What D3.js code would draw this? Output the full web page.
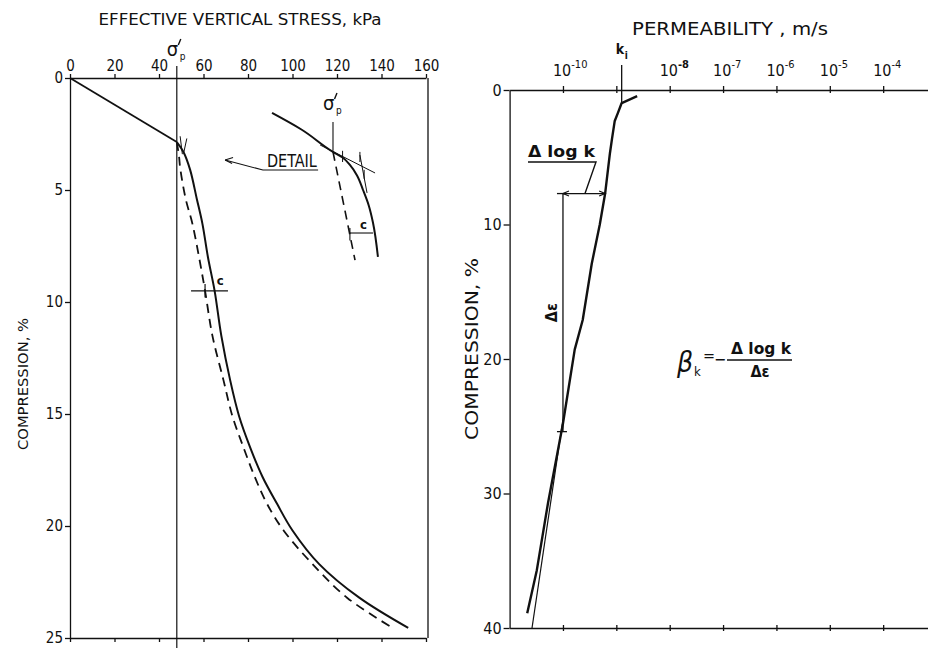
<!DOCTYPE html>
<html>
<head>
<meta charset="utf-8">
<script src="https://cdn.jsdelivr.net/npm/d3@7"></script>
<style>
  body { margin: 0; background: #fff; }
  svg text, svg tspan { fill: #111; font-family: "DejaVu Sans Condensed", "DejaVu Sans", sans-serif; }
  .axis path, .axis line { stroke: #111; stroke-width: 1.3; }
</style>
</head>
<body>
<div id="chart"></div>
<script>
// ---- left panel: effective vertical stress (kPa) vs compression (%)
const stressTicks = [0, 20, 40, 60, 80, 100, 120, 140, 160];
const compTicksLeft = [0, 5, 10, 15, 20, 25];
const preconStress = 48; // sigma'p

// straight loading part up to sigma'p
const loadStress = [0, 48];
const loadComp = [0, 2.86];

// solid curve after sigma'p
const solidStress = [48, 51, 54, 57, 59.5, 62, 65, 68, 72, 76, 81, 86.5, 93, 100, 112, 130, 152];
const solidComp = [2.86, 3.3, 4.1, 5.4, 6.5, 8, 9.5, 11.5, 13.5, 15.1, 16.5, 17.8, 19, 20.2, 21.7, 23.2, 24.55];

// dashed curve
const dashStress = [48, 49, 49.5, 52, 55, 58, 60.7, 64, 69, 73, 78, 83, 88.5, 96, 109, 124.5, 145];
const dashComp = [2.86, 3.5, 4, 5.4, 6.5, 8, 9.5, 11.5, 13.5, 15.1, 16.5, 17.8, 19, 20.2, 21.7, 23.2, 24.55];

// detail sketch (drawn in the same stress/compression units)
const detailSolidStress = [90.8, 104, 118.2, 122.5, 125.8, 129, 131.7, 134.3, 136.2, 138.4];
const detailSolidComp = [1.56, 2.3, 3.3, 3.55, 3.88, 4.35, 5.0, 5.7, 6.47, 7.99];
const detailDashStress = [118.2, 128.1];
const detailDashComp = [3.3, 8.13];
const detailTangentStress = [112.4, 137.1];
const detailTangentComp = [2.99, 4.24];

// ---- right panel: permeability (log10 m/s) vs compression (%)
const permExponents = [-10, -9, -8, -7, -6, -5, -4];
const permLabelled = [-10, -8, -7, -6, -5, -4];
const compTicksRight = [0, 10, 20, 30, 40];
const kiLog = -8.9;

const permLog = [-8.61, -8.90, -8.97, -9.03, -9.08, -9.12, -9.21, -9.31, -9.46, -9.63, -9.78, -10.0, -10.28, -10.49, -10.67];
const permComp = [0.45, 0.97, 1.7, 2.3, 3.6, 4.7, 7.7, 10.0, 12.9, 17.1, 19.3, 24.8, 30.7, 35.7, 38.9];

const fitLog = [-10.58, -10.0];
const fitComp = [40, 24.5];

const deltaTopComp = 7.7, deltaBotComp = 25.4;
const deltaLeftLog = -10.0, deltaRightLog = -9.21;

const W = 928, H = 648;
const svg = d3.select('#chart').append('svg')
  .attr('width', W).attr('height', H);

function sigmaLabel(x, y) {
  // sigma, subscript p, and the prime drawn as a short stroke
  svg.append('text').attr('x', x).attr('y', y).style('font-size', '20px').text('σ');
  svg.append('text').attr('x', x + 13).attr('y', y + 4).style('font-size', '10px').text('p');
  svg.append('path')
    .attr('d', `M${x + 14},${y - 17} L${x + 11.5},${y - 11}`)
    .attr('stroke', '#111').attr('stroke-width', 1.4).attr('fill', 'none');
}

// ================= LEFT PANEL =================
const xL = d3.scaleLinear().domain([0, 160]).range([70, 426]);
const yL = d3.scaleLinear().domain([0, 25]).range([78, 638]);

svg.append('g').classed('axis', true)
  .attr('transform', `translate(0,${yL(0)})`)
  .call(d3.axisTop(xL).tickValues(stressTicks).tickSize(4).tickSizeOuter(0).tickPadding(3))
  .call(g => g.selectAll('text').style('font-size', '15px'));

svg.append('g').classed('axis', true)
  .attr('transform', `translate(0,${yL(25)})`)
  .call(d3.axisBottom(xL).tickValues(stressTicks).tickSize(4).tickSizeOuter(0).tickFormat(''));

svg.append('g').classed('axis', true)
  .attr('transform', `translate(${xL(0)},0)`)
  .call(d3.axisLeft(yL).tickValues(compTicksLeft).tickSize(5).tickSizeOuter(0).tickPadding(2))
  .call(g => g.selectAll('text').style('font-size', '15px'));

svg.append('line')
  .attr('x1', xL(160) + 2).attr('x2', xL(160) + 2)
  .attr('y1', yL(0)).attr('y2', yL(25))
  .attr('stroke', '#111').attr('stroke-width', 1.3);

// sigma'p vertical
svg.append('line')
  .attr('x1', xL(preconStress)).attr('x2', xL(preconStress))
  .attr('y1', 66).attr('y2', H)
  .attr('stroke', '#111').attr('stroke-width', 1.2);
sigmaLabel(xL(preconStress) - 10, 56);

svg.append('text')
  .attr('x', 240).attr('y', 25)
  .attr('text-anchor', 'middle')
  .attr('textLength', 283).attr('lengthAdjust', 'spacingAndGlyphs')
  .style('font-size', '15px')
  .text('EFFECTIVE VERTICAL STRESS, kPa');

svg.append('text')
  .attr('transform', 'translate(28,384) rotate(-90)')
  .attr('text-anchor', 'middle')
  .attr('textLength', 132).attr('lengthAdjust', 'spacingAndGlyphs')
  .style('font-size', '14px')
  .text('COMPRESSION, %');

const lineL = d3.line().x(d => xL(d[0])).y(d => yL(d[1]));
const lineLSmooth = d3.line().x(d => xL(d[0])).y(d => yL(d[1])).curve(d3.curveCatmullRom.alpha(0.5));

svg.append('path')
  .attr('d', lineL(d3.zip(loadStress, loadComp)))
  .attr('fill', 'none').attr('stroke', '#111').attr('stroke-width', 1.8);

svg.append('path')
  .attr('d', lineLSmooth(d3.zip(solidStress, solidComp)))
  .attr('fill', 'none').attr('stroke', '#111').attr('stroke-width', 2);

svg.append('path')
  .attr('d', lineLSmooth(d3.zip(dashStress, dashComp)))
  .attr('fill', 'none').attr('stroke', '#111').attr('stroke-width', 1.8)
  .attr('stroke-dasharray', '9,6');

// small tick marks at the knee
svg.append('path')
  .attr('d', lineL([[49.5, 2.6], [50.5, 3.4]]))
  .attr('stroke', '#111').attr('stroke-width', 1).attr('fill', 'none');
svg.append('path')
  .attr('d', lineL([[52.5, 2.7], [51.2, 3.3]]))
  .attr('stroke', '#111').attr('stroke-width', 1).attr('fill', 'none');

// c dimension
const cComp = 9.5;
svg.append('path')
  .attr('d', lineL([[54.4, cComp], [71, cComp]]))
  .attr('stroke', '#111').attr('stroke-width', 1.2).attr('fill', 'none');
svg.append('path')
  .attr('d', lineL([[60.7, cComp - 0.3], [60.7, cComp + 0.3]]))
  .attr('stroke', '#111').attr('stroke-width', 1.2).attr('fill', 'none');
svg.append('text')
  .attr('x', xL(65) + 2).attr('y', yL(cComp) - 6)
  .style('font-size', '13px').style('font-weight', 'bold').text('c');

// ---- detail sketch
const lineD = d3.line().x(d => xL(d[0])).y(d => yL(d[1])).curve(d3.curveMonotoneY);
svg.append('path')
  .attr('d', lineD(d3.zip(detailSolidStress, detailSolidComp)))
  .attr('fill', 'none').attr('stroke', '#111').attr('stroke-width', 2);
svg.append('path')
  .attr('d', lineL(d3.zip(detailDashStress, detailDashComp)))
  .attr('fill', 'none').attr('stroke', '#111').attr('stroke-width', 1.6)
  .attr('stroke-dasharray', '9,6');
svg.append('path')
  .attr('d', lineL(d3.zip(detailTangentStress, detailTangentComp)))
  .attr('fill', 'none').attr('stroke', '#111').attr('stroke-width', 1);
svg.append('path')
  .attr('d', lineL([[130.3, 3.44], [133.5, 5.13]]))
  .attr('fill', 'none').attr('stroke', '#111').attr('stroke-width', 1);
// little ticks on detail
[[122.5, 3.25, 3.75], [130.3, 3.3, 3.75], [132.2, 4.1, 4.5]].forEach(t => {
  svg.append('path')
    .attr('d', lineL([[t[0], t[1]], [t[0], t[2]]]))
    .attr('stroke', '#111').attr('stroke-width', 1).attr('fill', 'none');
});
svg.append('path')
  .attr('d', lineL([[118.2, 1.96], [118.2, 3.25]]))
  .attr('stroke', '#111').attr('stroke-width', 1.1).attr('fill', 'none');
sigmaLabel(xL(118.2) - 10, 110);

// detail c
svg.append('path')
  .attr('d', lineL([[125.8, 6.92], [136.2, 6.92]]))
  .attr('stroke', '#111').attr('stroke-width', 1.1).attr('fill', 'none');
svg.append('path')
  .attr('d', lineL([[125.8, 6.7], [125.8, 7.25]]))
  .attr('stroke', '#111').attr('stroke-width', 1.1).attr('fill', 'none');
svg.append('text')
  .attr('x', xL(130.3)).attr('y', yL(6.92) - 4)
  .style('font-size', '13px').style('font-weight', 'bold').text('c');

// DETAIL label with arrow
svg.append('path')
  .attr('d', lineL([[69.7, 3.66], [86.7, 4.11], [111.5, 4.11]]))
  .attr('stroke', '#111').attr('stroke-width', 1.1).attr('fill', 'none');
svg.append('path')
  .attr('d', `M${xL(69.7)},${yL(3.66)} l8,-2.5 M${xL(69.7)},${yL(3.66)} l7,3.5`)
  .attr('stroke', '#111').attr('stroke-width', 1.1).attr('fill', 'none');
svg.append('text')
  .attr('x', xL(88.5)).attr('y', yL(4.11) - 3)
  .attr('textLength', 50).attr('lengthAdjust', 'spacingAndGlyphs')
  .style('font-size', '17px')
  .text('DETAIL');

// ================= RIGHT PANEL =================
const xR = d3.scaleLog().domain([1e-11, Math.pow(10, -3.16)]).range([509.6, 928]);
const yR = d3.scaleLinear().domain([0, 40]).range([90, 628]);
const permTickVals = permExponents.map(e => Math.pow(10, e));

const topR = svg.append('g').classed('axis', true)
  .attr('transform', `translate(0,${yR(0)})`)
  .call(d3.axisTop(xR).tickValues(permTickVals).tickSize(4).tickSizeOuter(0).tickFormat(''));
topR.selectAll('.tick line').attr('y2', -4).attr('y1', 3);

const botR = svg.append('g').classed('axis', true)
  .attr('transform', `translate(0,${yR(40)})`)
  .call(d3.axisBottom(xR).tickValues(permTickVals).tickSize(3).tickSizeOuter(0).tickFormat(''));
botR.selectAll('.tick line').attr('y1', -3).attr('y2', 3);

svg.append('g').classed('axis', true)
  .attr('transform', `translate(${xR(1e-11)},0)`)
  .call(d3.axisLeft(yR).tickValues(compTicksRight).tickSize(6).tickSizeOuter(0).tickPadding(2))
  .call(g => g.selectAll('text').style('font-size', '16px'));

// power-of-ten labels
permLabelled.forEach(e => {
  const t = svg.append('text')
    .attr('x', xR(Math.pow(10, e)) - 10).attr('y', 76)
    .style('font-size', '16px');
  t.append('tspan').text('10');
  t.append('tspan').attr('dy', -8).style('font-size', '11px')
    .style('font-weight', e === -8 ? 'bold' : 'normal').text(String(e));
});

// k_i marker
svg.append('line')
  .attr('x1', xR(Math.pow(10, kiLog))).attr('x2', xR(Math.pow(10, kiLog)))
  .attr('y1', 65).attr('y2', 104)
  .attr('stroke', '#111').attr('stroke-width', 1.3);
svg.append('text')
  .attr('x', xR(Math.pow(10, kiLog)) - 6).attr('y', 54)
  .style('font-size', '14px').style('font-weight', 'bold').text('k');
svg.append('text')
  .attr('x', xR(Math.pow(10, kiLog)) + 3).attr('y', 59)
  .style('font-size', '10px').style('font-weight', 'bold').text('i');

svg.append('text')
  .attr('x', 730).attr('y', 35)
  .attr('text-anchor', 'middle')
  .attr('textLength', 196).attr('lengthAdjust', 'spacingAndGlyphs')
  .style('font-size', '17px')
  .text('PERMEABILITY , m/s');

svg.append('text')
  .attr('transform', 'translate(478,349) rotate(-90)')
  .attr('text-anchor', 'middle')
  .attr('textLength', 182).attr('lengthAdjust', 'spacingAndGlyphs')
  .style('font-size', '17px')
  .text('COMPRESSION, %');

const lineR = d3.line().x(d => xR(Math.pow(10, d[0]))).y(d => yR(d[1]));

svg.append('path')
  .attr('d', lineR(d3.zip(fitLog, fitComp)))
  .attr('fill', 'none').attr('stroke', '#111').attr('stroke-width', 1.2);

svg.append('path')
  .attr('d', lineR(d3.zip(permLog, permComp)))
  .attr('fill', 'none').attr('stroke', '#111').attr('stroke-width', 2.4)
  .attr('stroke-linejoin', 'round');

// delta log k / delta eps construction
svg.append('path')
  .attr('d', lineR([[deltaLeftLog, deltaTopComp], [deltaRightLog, deltaTopComp]]))
  .attr('stroke', '#111').attr('stroke-width', 1.3).attr('fill', 'none');
svg.append('path')
  .attr('d', lineR([[deltaLeftLog, deltaTopComp], [deltaLeftLog, deltaBotComp]]))
  .attr('stroke', '#111').attr('stroke-width', 1.3).attr('fill', 'none');
[deltaTopComp, deltaBotComp].forEach(c => {
  svg.append('line')
    .attr('x1', xR(Math.pow(10, deltaLeftLog)) - 6).attr('x2', xR(Math.pow(10, deltaLeftLog)) + 4)
    .attr('y1', yR(c)).attr('y2', yR(c))
    .attr('stroke', '#111').attr('stroke-width', 1.3);
});
// arrowheads on the delta log k bar
const xa = xR(Math.pow(10, deltaLeftLog)), xb = xR(Math.pow(10, deltaRightLog)), ya = yR(deltaTopComp);
svg.append('path')
  .attr('d', `M${xa + 6},${ya - 2.5} L${xa},${ya} L${xa + 6},${ya + 2.5} M${xb - 6},${ya - 2.5} L${xb},${ya} L${xb - 6},${ya + 2.5}`)
  .attr('stroke', '#111').attr('stroke-width', 1.2).attr('fill', 'none');

// delta log k label with leader
svg.append('text')
  .attr('x', 528).attr('y', 157)
  .attr('textLength', 67).attr('lengthAdjust', 'spacingAndGlyphs')
  .style('font-size', '16px').style('font-weight', 'bold')
  .text('Δ log k');
svg.append('path')
  .attr('d', `M528,162 L596,162 L585,${ya}`)
  .attr('stroke', '#111').attr('stroke-width', 1.4).attr('fill', 'none');

svg.append('text')
  .attr('transform', `translate(557,${(yR(deltaTopComp) + yR(deltaBotComp)) / 2}) rotate(-90)`)
  .attr('text-anchor', 'middle')
  .style('font-size', '16px').style('font-weight', 'bold')
  .text('Δε');

// formula
svg.append('text')
  .attr('x', 677).attr('y', 372)
  .style('font-size', '28px').style('font-style', 'italic').text('β');
svg.append('text')
  .attr('x', 694).attr('y', 376)
  .style('font-size', '13px').text('k');
svg.append('text')
  .attr('x', 703).attr('y', 361)
  .style('font-size', '16px')
  .text('=');
svg.append('text')
  .attr('x', 714).attr('y', 365)
  .style('font-size', '16px')
  .text('−');
svg.append('line')
  .attr('x1', 727).attr('x2', 792).attr('y1', 360).attr('y2', 360)
  .attr('stroke', '#111').attr('stroke-width', 1.6);
svg.append('text')
  .attr('x', 761).attr('y', 354)
  .attr('text-anchor', 'middle')
  .attr('textLength', 60).attr('lengthAdjust', 'spacingAndGlyphs')
  .style('font-size', '16px').style('font-weight', 'bold')
  .text('Δ log k');
svg.append('text')
  .attr('x', 760).attr('y', 377)
  .attr('text-anchor', 'middle')
  .style('font-size', '16px').style('font-weight', 'bold')
  .text('Δε');
</script>
</body>
</html>
